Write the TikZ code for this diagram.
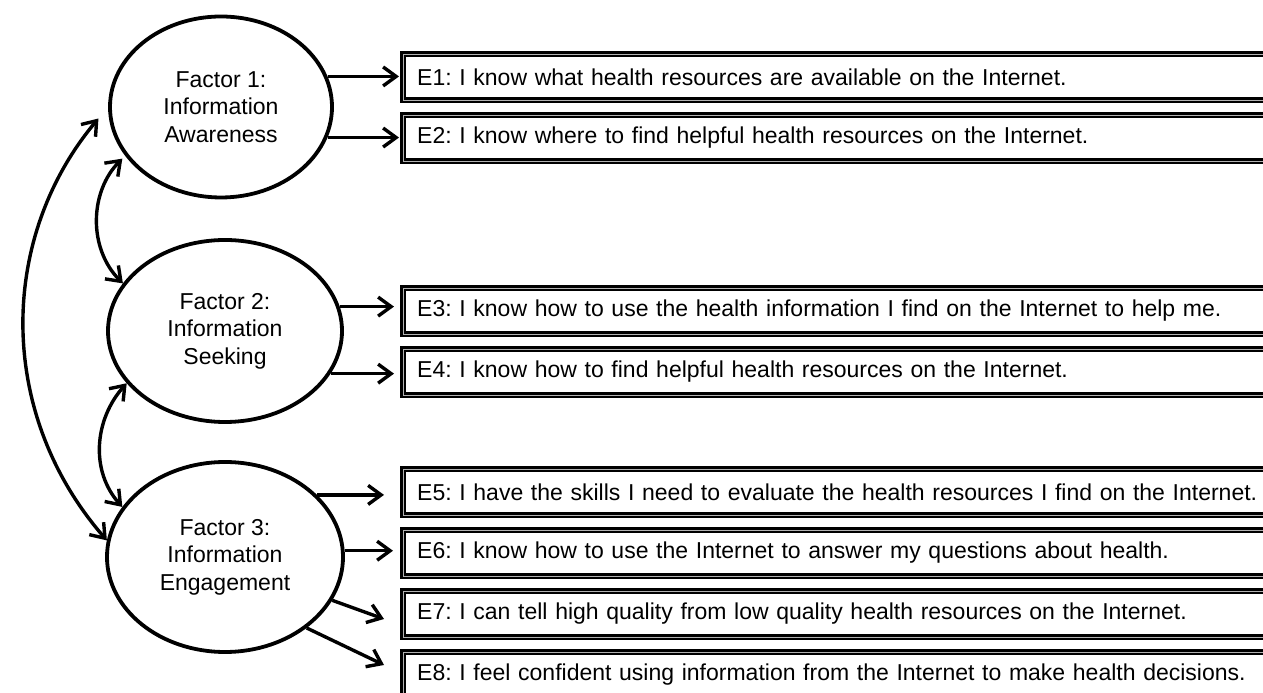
\documentclass[tikz,border=0pt]{standalone}
\usepackage{fontspec}
\setmainfont{Liberation Sans}
\usepackage{tikz}
\usetikzlibrary{shapes.geometric, positioning, arrows.meta}
\tikzset{
	>={Straight Barb[length=13pt,width=19pt]}, % open arrow heads
	x=1pt, y=1pt, % one unit is one pixel of the figure
	node distance=61pt, % center distance between two item boxes
}
\frenchspacing

\begin{document}
\begin{tikzpicture}[line width=3.4pt,font=\fontsize{23}{27.5}\selectfont]
			\tikzstyle{factor}=[ellipse,draw,line width=3.8pt,align=center,inner sep=0pt]
			\tikzstyle{item}=[rectangle,draw,double=gray!60,double distance=0.7pt,line width=2.4pt,
				minimum height=46pt,text width=870pt,inner xsep=14pt,align=left,anchor=west]
			\useasboundingbox (0,0) rectangle (1263,693);
			\clip (0,0) rectangle (1263,693);
			\node[factor,minimum width=222pt,minimum height=181pt] (F1) at (221,586) {Factor 1:\\Information\\Awareness};
			\node[factor,minimum width=234pt,minimum height=182pt] (F2) at (225,362) {Factor 2:\\Information\\Seeking};
			\node[factor,minimum width=236pt,minimum height=190pt] (F3) at (225,136) {Factor 3:\\Information\\Engagement};
			\node[item] (E1) at (402,616) {E1: I know what health resources are available on the Internet.};
			\node[item] (E2) [below of=E1] {E2: I know where to find helpful health resources on the Internet.};
			\node[item] (E3) at (402,382) {E3: I know how to use the health information I find on the Internet to help me.};
			\node[item] (E4) [below of=E3] {E4: I know how to find helpful health resources on the Internet.};
			\node[item] (E5) at (402,201) {E5: I have the skills I need to evaluate the health resources I find on the Internet.};
			\node[item] (E6) [below of=E5] {E6: I know how to use the Internet to answer my questions about health.};
			\node[item] (E7) [below of=E6] {E7: I can tell high quality from low quality health resources on the Internet.};
			\node[item] (E8) [below of=E7] {E8: I feel confident using information from the Internet to make health decisions.};
			\coordinate (t7) at ([shift={(-18,-5)}]E7.west);
			\coordinate (t8) at ([shift={(-18,10)}]E8.west);
			\path[->] (F1.16) edge[shorten >=3pt] (F1.16 -| E1.west)
			(F1.-16) edge[shorten >=3pt] (F1.-16 -| E2.west)
			(F2.12) edge[shorten >=8pt] (F2.12 -| E3.west)
			(F2.-22) edge[shorten >=8pt] (F2.-22 -| E4.west)
			(F3.34) edge[shorten >=18pt] (F3.34 -| E5.west)
			(F3.3) edge[shorten >=9pt] (F3.3 -| E6.west)
			(F3.-22) edge (t7)
			(F3.-41) edge (t8);
			\path[<->] (F1.207) edge[out=225,in=135,shorten <=4pt] (F2.155)
			(F2.208) edge[out=228,in=132] (F3.154)
			(F1.west) edge[out=230,in=131,shorten <=15pt] (F3.172);
		\end{tikzpicture}
\end{document}
